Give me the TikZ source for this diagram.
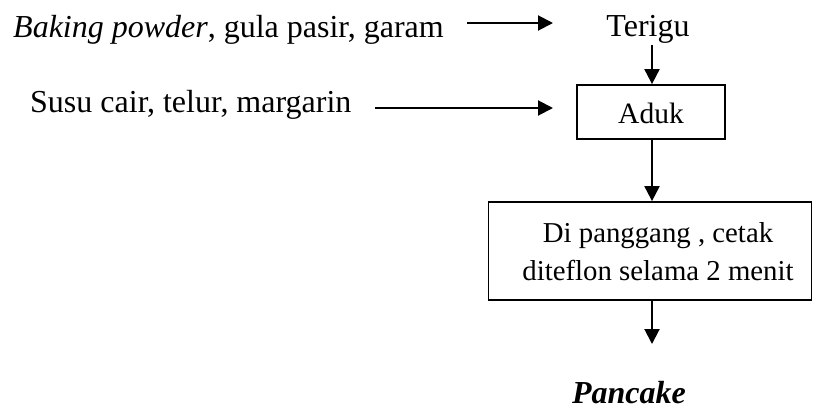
\documentclass[tikz,border=0pt]{standalone}
\usepackage{fontspec}
\setmainfont{Liberation Serif}
\usetikzlibrary{arrows.meta}
\begin{document}
\begin{tikzpicture}[x=1pt,y=-1pt,
  txt/.style={font=\fontsize{32}{38}\selectfont, inner sep=0pt, anchor=base},
  boxtxt/.style={font=\fontsize{28.8}{38}\selectfont, inner sep=0pt, anchor=base, align=center},
  procbox/.style={draw, line width=1.8pt, inner sep=0pt},
  flow/.style={line width=2pt, -{Triangle[length=15pt,width=15pt]}}]
\useasboundingbox (0,0) rectangle (813,410);
\node[txt, anchor=base west] (bp) at (13,37) {\textit{Baking powder}, gula pasir, garam};
\node[txt] (ter) at (648,36) {Terigu};
\node[txt, anchor=base west] (susu) at (30,112) {Susu cair, telur, margarin};
\node[procbox, minimum width=148pt, minimum height=54pt] (aduk) at (651,112) {};
\node[boxtxt, font=\fontsize{29.5}{38}\selectfont] (adukt) at (651,123) {Aduk};
\node[procbox, minimum width=323pt, minimum height=98pt] (pang) at (650,251) {};
\node[boxtxt] (pangt) at (658,280) {Di panggang , cetak\\diteflon selama 2 menit};
\node[txt, font=\fontsize{32}{38}\selectfont\bfseries\itshape] (pan) at (629,403) {Pancake};
\coordinate (a1s) at (467,23);
\coordinate (a1e) at (553,23);
\draw[flow] (a1s) -- (a1e);
\coordinate (a2s) at (375,108);
\coordinate (a2e) at (553,108);
\draw[flow] (a2s) -- (a2e);
\coordinate (a3s) at (652,45);
\draw[flow] (a3s) -- (a3s |- aduk.north);
\draw[flow] (aduk.south -| 652,0) -- (pang.north -| 652,0);
\coordinate (a5e) at (652,344);
\draw[flow] (pang.south -| a5e) -- (a5e);
\end{tikzpicture}
\end{document}
